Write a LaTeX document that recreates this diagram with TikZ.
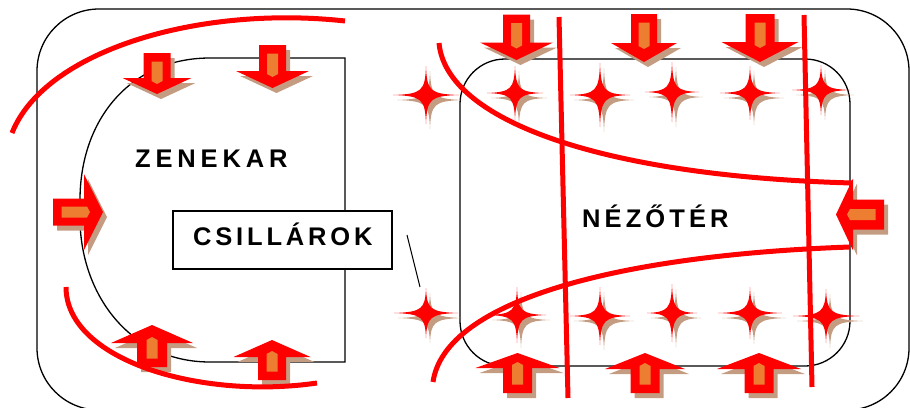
\documentclass[tikz,border=0pt]{standalone}
\usepackage{fontspec}
\setmainfont{Liberation Sans}
\definecolor{rd}{RGB}{255,0,0}
\definecolor{org}{RGB}{237,125,49}
\definecolor{shd}{RGB}{196,156,130}
\tikzset{
  redline/.style={draw=rd, line width=5pt},
  blk/.style={draw=black, line width=1.3pt},
  lbl/.style={anchor=base west, inner sep=0pt, text=black},
}
% tipx tipy rot hw L H h
\newcommand\arrowshadow[7]{%
  \begin{scope}[shift={(#1+4,#2+5)},rotate=#3]
    \fill[shd] (0,0) -- (-#6,-#7) -- (-#4,-#7) -- (-#4,-#7-#5) -- (#4,-#7-#5) -- (#4,-#7) -- (#6,-#7) -- cycle;
  \end{scope}}
\newcommand\arrowbody[7]{%
  \begin{scope}[shift={(#1,#2)},rotate=#3]
    \fill[rd] (0,0) -- (-#6,-#7) -- (-#4,-#7) -- (-#4,-#7-#5) -- (#4,-#7-#5) -- (#4,-#7) -- (#6,-#7) -- cycle;
    \fill[org] (-5.5,-#7-#5+8.5) -- (5.5,-#7-#5+8.5) -- (5.5,-#7+3) -- (0,-#7+6) -- (-5.5,-#7+3) -- cycle;
  \end{scope}}
\newcommand\allarrows[1]{%
  #1{157}{94}{0}{13.5}{25}{34.5}{16}%
  #1{272.5}{88}{0}{13.5}{26}{36.5}{17}%
  #1{103}{212}{90}{13.5}{31}{38}{19}%
  #1{152}{325}{180}{15}{24}{41}{18}%
  #1{272}{340}{180}{14}{23}{38.5}{17}%
  #1{516.5}{60}{0}{13.5}{28}{36.5}{17.5}%
  #1{644}{62}{0}{13}{29}{33}{19}%
  #1{760}{62}{0}{14.5}{28}{38.5}{20}%
  #1{517.5}{353}{180}{14.5}{25}{42}{15}%
  #1{645}{353}{180}{14.5}{24}{40}{16}%
  #1{759}{353}{180}{14.5}{24}{42}{16}%
  #1{836}{214.5}{-90}{15}{31}{36}{17}%
}
% cx cy hw hh
\newcommand\starpath[4]{(#1+#3,#2) .. controls (#1+4,#2+1) and (#1+1,#2+4) .. (#1,#2+#4)
  .. controls (#1-1,#2+4) and (#1-4,#2+1) .. (#1-#3,#2)
  .. controls (#1-4,#2-1) and (#1-1,#2-4) .. (#1,#2-#4)
  .. controls (#1+1,#2-4) and (#1+4,#2-1) .. (#1+#3,#2) -- cycle}
\newcommand\starshadow[4]{\fill[shd] \starpath{#1+4}{#2+5}{#3}{#4};}
\newcommand\starbody[4]{\fill[rd] \starpath{#1}{#2}{#3}{#4};}
\newcommand\allstars[1]{%
  #1{426}{95}{33}{29}#1{515}{93}{28}{27}#1{600}{95}{30}{32}%
  #1{672}{92}{27}{30}#1{750}{93}{30}{27}#1{821}{90}{29}{25}%
  #1{426}{313}{32}{25}#1{517}{315}{29}{28}#1{600}{316}{30}{29}%
  #1{672}{313}{25}{29}#1{750}{313}{32}{26}#1{826}{316}{33}{27}%
}
\begin{document}
\begin{tikzpicture}[x=1pt,y=-1pt]
\useasboundingbox (0,0) rectangle (910,407);
\clip (0,0) rectangle (910,407);
% outer frame
\draw[blk, rounded corners=62pt] (37,9) rectangle (909,410);
% zenekar shape
\draw[blk] (345,58) -- (210,58) .. controls (130,58) and (80,120) .. (80,200)
  -- (80,218) .. controls (80,292) and (128,362) .. (210,362) -- (345,362) -- cycle;
% nezoter rect
\draw[blk, rounded corners=45pt] (460,59) rectangle (850,366);
% thin line
\coordinate (t1) at (407,235);
\coordinate (t2) at (420,287);
\draw[black, line width=1pt] (t1) -- (t2);
% shadows
\allarrows\arrowshadow
\allstars\starshadow
% red curves and lines
\draw[redline] (12,133) .. controls (45,50) and (200,5) .. (345,21);
\draw[redline] (66,287) .. controls (66,360) and (200,400) .. (317,383);
\draw[redline] (439,43) .. controls (446,120) and (600,176) .. (852,183);
\draw[redline] (433,382) .. controls (445,300) and (620,255) .. (850,247);
\draw[redline] (559,17) -- (568,398);
\draw[redline] (804,15) -- (812,387);
% stars and arrows
\allstars\starbody
\allarrows\arrowbody
% box
\draw[blk, fill=white] (173,211) rectangle (392,269);
% texts
\node[lbl, font=\fontsize{25.5}{28}\selectfont\bfseries\addfontfeature{LetterSpace=19}] (zen) at (135,167) {ZENEKAR};
\node[lbl, font=\fontsize{25.5}{28}\selectfont\bfseries\addfontfeature{LetterSpace=15}] (csi) at (193,245) {CSILLÁROK};
\node[lbl, font=\fontsize{25.5}{28}\selectfont\bfseries\addfontfeature{LetterSpace=16}] (nez) at (582,227) {NÉZŐTÉR};
\end{tikzpicture}
\end{document}
